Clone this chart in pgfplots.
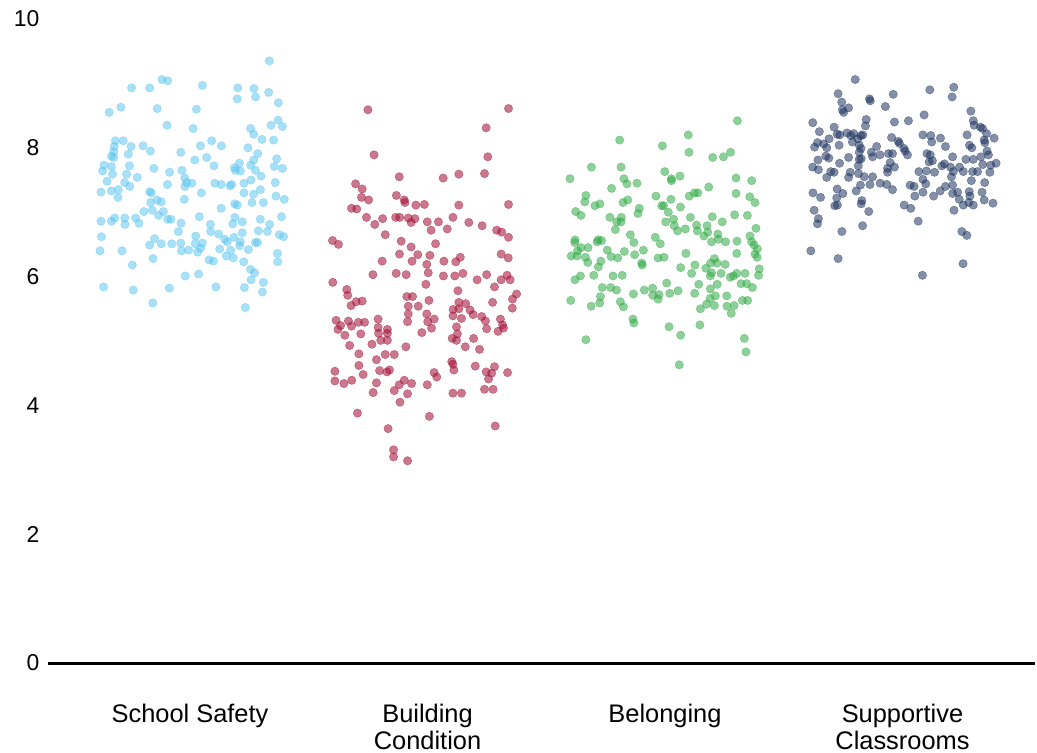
\documentclass[border=0pt]{standalone}
\usepackage{fontspec}
\setmainfont{Liberation Sans}
\usepackage{pgfplots}
\usepackage{pgfplotstable}
\pgfplotsset{compat=1.18}
\definecolor{cSafe}{RGB}{95,198,240}
\definecolor{cBuild}{RGB}{165,20,60}
\definecolor{cBelong}{RGB}{50,170,70}
\definecolor{cSupp}{RGB}{30,52,95}

\pgfplotstableread{
x y
0.334 9.35
-0.118 9.06
-0.094 9.04
-0.246 8.93
-0.170 8.93
0.052 8.97
0.201 8.93
0.269 8.92
0.331 8.86
0.199 8.76
0.276 8.79
0.372 8.70
-0.340 8.55
-0.291 8.63
-0.138 8.61
0.027 8.60
-0.097 8.35
0.013 8.30
0.371 8.43
0.341 8.35
0.389 8.33
0.255 8.30
0.268 8.21
0.303 8.13
0.352 8.12
-0.314 8.11
-0.281 8.11
-0.198 8.03
-0.248 8.02
-0.319 8.02
-0.167 7.95
-0.321 7.94
-0.331 7.87
-0.321 7.85
-0.260 7.90
-0.039 7.93
0.044 8.03
0.091 8.11
0.132 8.03
0.244 8.00
0.285 7.91
0.268 7.81
0.365 7.83
0.020 7.81
0.070 7.85
-0.362 7.73
-0.331 7.71
-0.255 7.72
-0.152 7.68
0.101 7.72
0.187 7.69
0.208 7.76
0.255 7.73
0.276 7.65
0.355 7.71
0.389 7.68
-0.368 7.64
-0.326 7.59
-0.267 7.59
-0.222 7.54
-0.086 7.62
-0.034 7.65
-0.022 7.53
0.191 7.65
0.212 7.64
0.299 7.56
-0.349 7.48
-0.275 7.46
-0.095 7.43
-0.014 7.46
0.104 7.45
0.131 7.43
0.175 7.43
0.227 7.45
0.257 7.50
0.359 7.46
-0.254 7.40
-0.022 7.40
0.008 7.45
0.168 7.41
-0.375 7.31
-0.331 7.33
-0.302 7.35
-0.303 7.23
-0.170 7.32
-0.163 7.30
0.048 7.30
0.227 7.30
0.268 7.28
0.296 7.35
0.362 7.25
0.397 7.20
-0.166 7.15
-0.139 7.19
-0.121 7.16
-0.024 7.20
0.188 7.13
0.199 7.11
0.261 7.15
0.309 7.15
0.131 7.06
-0.194 7.01
-0.159 7.03
-0.112 7.01
-0.132 6.95
-0.094 6.89
-0.081 6.89
0.039 6.93
0.189 6.92
-0.375 6.86
-0.331 6.86
-0.317 6.91
-0.275 6.91
-0.274 6.81
-0.229 6.91
-0.215 6.83
-0.038 6.83
-0.049 6.70
0.086 6.81
0.087 6.70
0.180 6.82
0.220 6.85
0.296 6.89
0.335 6.81
0.385 6.93
0.326 6.70
0.288 6.71
0.220 6.68
-0.373 6.62
0.024 6.63
0.121 6.66
0.146 6.58
0.157 6.54
0.185 6.61
0.212 6.54
0.209 6.48
0.376 6.65
0.394 6.62
0.275 6.53
0.284 6.53
-0.149 6.59
-0.170 6.49
-0.121 6.51
-0.077 6.51
-0.039 6.52
0.022 6.51
0.052 6.52
0.045 6.44
0.032 6.38
-0.036 6.40
-0.006 6.41
0.125 6.43
0.171 6.41
0.153 6.32
0.182 6.29
0.246 6.42
-0.379 6.40
-0.286 6.40
-0.156 6.28
0.080 6.26
0.098 6.24
0.226 6.23
0.368 6.36
0.369 6.23
-0.243 6.18
0.255 6.11
0.272 6.06
0.257 5.95
0.309 5.91
-0.020 6.01
0.036 6.04
-0.364 5.84
-0.239 5.79
-0.087 5.82
0.109 5.84
0.229 5.83
0.305 5.76
-0.157 5.59
0.233 5.52
}\safety

\pgfplotstableread{
x y
0.749 8.59
1.341 8.61
1.247 8.31
0.775 7.89
1.254 7.86
0.881 7.55
1.066 7.53
1.132 7.59
1.240 7.60
0.697 7.44
0.725 7.36
0.722 7.23
0.752 7.19
0.869 7.26
0.902 7.19
0.905 7.15
0.951 7.11
0.987 7.12
1.132 7.11
1.341 7.12
0.680 7.06
0.702 7.05
0.743 6.92
0.811 6.90
0.866 6.92
0.883 6.92
0.919 6.91
0.947 6.90
0.999 6.85
1.046 6.85
1.107 6.92
1.174 6.84
0.778 6.81
1.230 6.79
0.931 6.84
1.015 6.72
1.083 6.74
1.291 6.72
1.312 6.69
1.341 6.61
0.600 6.56
0.625 6.50
0.822 6.65
0.889 6.55
0.931 6.46
1.034 6.51
0.882 6.35
0.959 6.34
1.010 6.33
0.935 6.24
0.809 6.24
0.997 6.19
1.069 6.24
1.119 6.23
1.138 6.30
1.310 6.35
1.340 6.29
0.770 6.03
0.868 6.05
0.910 6.03
1.003 6.06
1.067 6.01
1.115 6.01
1.149 6.05
1.209 5.95
1.249 6.03
1.310 5.95
1.335 6.02
1.348 5.95
0.601 5.91
0.993 5.88
1.282 5.84
0.660 5.80
0.664 5.71
1.128 5.78
1.375 5.73
1.358 5.65
0.700 5.61
0.725 5.62
0.678 5.55
0.913 5.69
0.937 5.69
1.006 5.63
1.132 5.60
1.161 5.58
1.274 5.60
0.919 5.54
0.961 5.54
1.108 5.49
1.132 5.50
1.179 5.48
1.357 5.51
0.919 5.42
0.997 5.42
1.192 5.41
1.228 5.38
1.107 5.39
1.143 5.35
1.028 5.34
0.615 5.32
0.667 5.31
0.709 5.29
0.735 5.29
0.792 5.34
0.916 5.30
1.001 5.30
1.244 5.31
1.307 5.34
0.634 5.24
0.623 5.18
0.680 5.23
0.792 5.21
0.831 5.18
1.017 5.20
1.122 5.22
1.316 5.25
1.320 5.20
1.249 5.19
1.297 5.15
0.652 5.09
0.719 5.11
0.794 5.12
0.831 5.12
0.976 5.13
1.126 5.11
1.104 5.04
1.122 5.01
1.194 5.04
0.803 5.01
0.831 5.01
0.766 4.95
0.672 4.93
0.909 4.91
1.159 4.91
1.219 4.87
0.711 4.80
0.822 4.79
0.860 4.79
0.785 4.71
0.711 4.62
0.610 4.53
0.729 4.48
0.798 4.54
0.829 4.52
0.840 4.55
0.610 4.38
0.648 4.34
0.681 4.39
0.785 4.35
0.902 4.39
0.881 4.32
0.933 4.34
0.860 4.23
0.771 4.20
0.916 4.18
0.884 4.05
0.999 4.32
1.028 4.51
1.039 4.44
1.102 4.68
1.107 4.64
1.111 4.55
1.201 4.61
1.247 4.52
1.270 4.50
1.282 4.60
1.257 4.41
1.337 4.51
1.240 4.25
1.276 4.25
1.107 4.19
1.143 4.19
0.705 3.88
1.008 3.83
0.834 3.64
1.285 3.68
0.857 3.31
0.857 3.20
0.916 3.14
}\building

\pgfplotstableread{
x y
2.305 8.42
2.098 8.20
1.809 8.12
1.989 8.03
2.101 7.93
2.201 7.85
2.246 7.86
2.276 7.93
1.690 7.70
1.815 7.70
1.600 7.52
1.999 7.63
2.027 7.52
2.027 7.49
2.063 7.56
1.827 7.52
1.840 7.44
1.882 7.45
1.775 7.37
2.184 7.39
2.299 7.53
2.365 7.49
1.667 7.26
1.662 7.16
1.705 7.10
1.726 7.13
1.823 7.15
1.843 7.19
1.962 7.25
2.025 7.20
2.102 7.25
2.124 7.30
2.138 7.30
2.299 7.29
2.357 7.24
2.379 7.15
1.624 7.01
1.646 6.95
1.892 7.06
1.886 6.98
1.986 7.10
1.994 7.10
2.065 7.08
2.014 7.00
1.768 6.92
1.816 6.92
1.797 6.85
1.815 6.85
2.003 6.85
2.036 6.89
2.107 6.92
2.199 6.93
2.293 6.96
2.347 6.95
2.241 6.85
1.791 6.73
1.854 6.65
2.039 6.79
2.053 6.71
2.086 6.74
2.133 6.80
2.177 6.79
2.180 6.69
2.136 6.71
2.222 6.66
2.383 6.75
2.358 6.63
1.959 6.61
2.164 6.63
1.719 6.57
1.621 6.57
1.620 6.53
1.646 6.45
1.714 6.54
1.733 6.56
1.869 6.53
1.980 6.51
2.196 6.54
2.225 6.58
2.255 6.54
2.303 6.55
2.365 6.54
2.375 6.49
1.632 6.40
1.605 6.32
1.630 6.32
1.676 6.45
1.665 6.30
1.675 6.22
1.757 6.41
1.773 6.31
1.801 6.29
1.829 6.39
1.872 6.34
1.909 6.41
1.730 6.24
1.719 6.15
1.902 6.21
1.904 6.18
1.971 6.29
1.996 6.30
2.088 6.36
2.302 6.36
2.379 6.35
2.388 6.30
2.389 6.43
2.066 6.14
2.126 6.18
2.172 6.13
2.192 6.21
2.208 6.28
2.219 6.21
2.253 6.19
2.196 6.06
2.191 6.01
2.236 6.05
2.275 5.99
2.288 6.01
2.302 6.05
2.337 6.05
2.397 6.12
2.394 6.02
1.621 5.95
1.644 6.01
1.700 6.02
1.781 6.01
1.820 6.02
2.112 6.05
2.320 5.89
2.344 5.89
2.368 5.83
1.736 5.83
1.771 5.83
1.796 5.79
1.728 5.69
1.725 5.59
1.603 5.63
1.689 5.54
1.812 5.61
1.825 5.53
1.867 5.73
1.913 5.79
1.948 5.82
1.948 5.71
1.975 5.72
1.971 5.65
2.007 5.90
2.020 5.74
2.055 5.78
2.125 5.74
2.142 5.88
2.220 5.88
2.191 5.81
2.212 5.70
2.190 5.66
2.175 5.57
2.208 5.55
2.149 5.50
2.260 5.70
2.261 5.54
2.291 5.55
2.279 5.43
2.326 5.63
2.348 5.63
1.865 5.34
1.869 5.28
2.017 5.22
2.147 5.25
2.066 5.09
1.667 5.02
2.334 5.04
2.341 4.83
2.060 4.63
}\belonging

\pgfplotstableread{
x y
2.801 9.06
3.115 8.90
3.216 8.94
3.209 8.79
2.729 8.84
2.961 8.83
2.861 8.76
2.864 8.73
2.744 8.71
2.773 8.62
2.747 8.59
2.752 8.55
2.928 8.64
3.288 8.57
3.091 8.51
2.622 8.39
2.847 8.44
2.844 8.34
2.966 8.40
3.025 8.42
3.298 8.42
3.302 8.35
3.328 8.32
3.337 8.30
2.650 8.25
2.712 8.32
2.725 8.21
2.736 8.20
2.766 8.23
2.782 8.19
2.794 8.22
2.825 8.19
2.833 8.20
2.789 8.09
2.812 8.14
3.086 8.20
3.119 8.19
3.160 8.15
3.123 8.09
3.272 8.20
3.354 8.22
3.386 8.15
3.344 8.12
3.347 8.08
2.630 8.01
2.642 8.08
2.668 8.06
2.681 8.00
2.691 8.14
2.733 8.04
2.818 8.04
2.825 7.99
2.891 8.02
2.954 8.16
2.982 8.10
2.987 8.07
3.006 7.99
3.011 7.95
3.021 7.89
3.181 8.02
3.282 8.04
3.292 8.00
3.356 7.95
3.362 7.89
2.677 7.87
2.690 7.84
2.773 7.85
2.818 7.93
2.818 7.82
2.869 7.93
2.874 7.86
2.905 7.89
2.941 7.91
2.958 7.91
2.948 7.77
3.103 7.91
3.117 7.89
3.126 7.80
3.112 7.78
3.211 7.86
3.177 7.75
3.166 7.72
3.267 7.82
3.298 7.82
3.330 7.86
3.338 7.74
3.372 7.73
3.394 7.76
2.622 7.70
2.644 7.81
2.646 7.66
2.698 7.63
2.735 7.76
2.712 7.62
2.780 7.62
2.814 7.72
2.826 7.83
2.815 7.60
2.966 7.70
2.937 7.68
2.937 7.62
3.069 7.63
3.101 7.64
3.135 7.62
3.202 7.70
3.214 7.63
3.240 7.70
3.256 7.63
3.295 7.63
3.316 7.63
3.368 7.62
2.681 7.54
2.773 7.54
2.839 7.55
2.874 7.55
2.823 7.42
2.863 7.43
2.906 7.45
2.934 7.43
2.958 7.35
2.805 7.33
2.623 7.30
2.655 7.23
2.725 7.36
2.749 7.29
2.723 7.22
2.715 7.10
2.726 7.11
2.829 7.18
2.826 7.13
2.858 7.01
2.628 7.03
2.646 6.90
2.642 6.82
2.745 6.70
2.832 6.79
2.614 6.40
2.729 6.28
3.032 7.42
3.049 7.40
3.086 7.51
3.098 7.44
3.086 7.31
3.052 7.25
3.007 7.11
3.035 7.06
3.066 6.86
3.131 7.25
3.159 7.33
3.181 7.40
3.211 7.42
3.206 7.55
3.211 7.29
3.232 7.31
3.239 7.20
3.256 7.11
3.279 7.15
3.284 7.25
3.281 7.32
3.298 7.11
3.290 7.49
3.346 7.46
3.335 7.31
3.344 7.19
3.381 7.14
3.217 7.03
3.250 6.70
3.271 6.64
3.255 6.20
3.084 6.02
}\supportive

\begin{document}
\begin{tikzpicture}
\begin{axis}[
  scale only axis,
  width=987bp, height=644bp,
  xmin=-0.598, xmax=3.558, ymin=0, ymax=10,
  axis lines=left,
  axis line style={-},
  x axis line style={-, line width=3bp, black},
  y axis line style={draw=none},
  tick style={draw=none},
  major tick length=0pt,
  tick align=inside,
  ytick={0,2,4,6,8,10},
  xtick={0,1,2,3},
  xticklabels={School Safety, Building\\Condition, Belonging, Supportive\\Classrooms},
  xticklabel style={align=center, font=\fontsize{25.5}{26.5}\selectfont, yshift=-38bp},
  yticklabel style={font=\fontsize{23}{27}\selectfont, xshift=-5bp},
  /pgf/number format/assume math mode=true,
  clip=false,
]
\addplot[only marks, mark=*, mark size=4.2bp, draw=cSafe, fill=cSafe, opacity=0.55] table[x=x,y=y] {\safety};
\addplot[only marks, mark=*, mark size=4.2bp, draw=cBuild, fill=cBuild, opacity=0.58] table[x=x,y=y] {\building};
\addplot[only marks, mark=*, mark size=4.2bp, draw=cBelong, fill=cBelong, opacity=0.55] table[x=x,y=y] {\belonging};
\addplot[only marks, mark=*, mark size=4.2bp, draw=cSupp, fill=cSupp, opacity=0.55] table[x=x,y=y] {\supportive};
\end{axis}
\pgfresetboundingbox
\path[use as bounding box] (-48bp,-90bp) rectangle (989bp,663bp);
\end{tikzpicture}
\end{document}
